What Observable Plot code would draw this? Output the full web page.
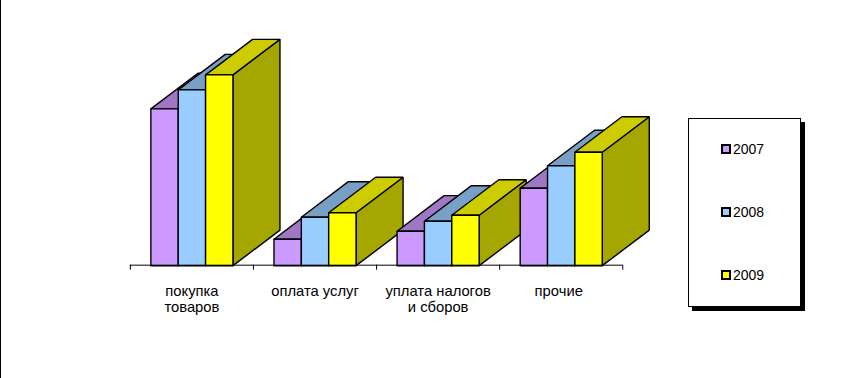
<!DOCTYPE html>
<html><head><meta charset="utf-8">
<script src="https://cdn.jsdelivr.net/npm/d3@7"></script>
<script src="https://cdn.jsdelivr.net/npm/@observablehq/plot@0.6"></script>
<style>
html,body{margin:0;padding:0;background:#fff;overflow:hidden}
#wrap{position:relative;width:850px;height:378px;box-sizing:border-box;border-left:1px solid #000;font-family:"Liberation Sans",Arial,sans-serif}
#wrap svg{position:absolute;left:-1px;top:0;background:transparent}
#legend{position:absolute;left:687px;top:118px;width:111px;height:187px;border:1px solid #000;background:#fff;box-shadow:4px 4px 0 #000}
.item{position:absolute;left:32px;display:flex;align-items:center;font-size:14px;line-height:16px;color:#000}
.sw{width:6px;height:6px;border:2px solid #000;margin-right:2px;flex:none}
</style></head><body>
<div id="wrap"></div>
<script>
const categories = ["покупка\nтоваров", "оплата услуг", "уплата налогов\nи сборов", "прочие"];
const labelPositions = [0.5, 1.5, 2.5, 3.48];
const years = ["2007", "2008", "2009"];
const values2007 = [157, 26.5, 34.5, 77.5];
const values2008 = [176, 48.5, 44.5, 100];
const values2009 = [191, 53, 50.5, 113.5];
const frontColors = ["#CC99FF", "#99CCFF", "#FFFF00"];
const topColors = ["#9F77C4", "#789FC6", "#CCCC00"];
const sideColors = ["#7F66A6", "#6688AA", "#A6A600"];
const barWidth = 2 / 9, catGap = 1 / 6, depthX = 0.382, depthY = 35.6;

const series = [values2007, values2008, values2009];
const faces = [];
categories.forEach((c, i) => years.forEach((yr, k) => {
  const v = series[k][i], x0 = i + catGap + k * barWidth, x1 = x0 + barWidth;
  const add = (part, fill, pts) => pts.forEach(([x, y]) => faces.push({id: `${i}-${k}-${part}`, fill, x, y}));
  add("side", sideColors[k], [[x1,0],[x1+depthX,depthY],[x1+depthX,v+depthY],[x1,v],[x1,0]]);
  add("top", topColors[k], [[x0,v],[x1,v],[x1+depthX,v+depthY],[x0+depthX,v+depthY],[x0,v]]);
  add("front", frontColors[k], [[x0,0],[x1,0],[x1,v],[x0,v],[x0,0]]);
}));
const labels = categories.map((label, i) => ({label, x: labelPositions[i]}));

const chart = Plot.plot({
  width: 850, height: 378,
  marginLeft: 130, marginRight: 227, marginTop: 0, marginBottom: 113,
  x: {domain: [0, 4]},
  y: {domain: [0, 265], axis: null},
  style: {background: "transparent", fontFamily: '"Liberation Sans",Arial,sans-serif'},
  marks: [
    Plot.line(faces, {x: "x", y: "y", z: "id", fill: "fill", stroke: "#000", strokeWidth: 1.4, strokeLinejoin: "miter", strokeOpacity: 1, curve: "linear", dy: 0.5}),
    Plot.ruleY([0], {stroke: "#000", strokeWidth: 1}),
    Plot.axisX({ticks: [0, 1, 2, 3, 4], tickSize: 5, tickFormat: () => "", label: null, stroke: "#000"}),
    Plot.text(labels, {x: "x", y: 0, text: "label", dy: 19.5, lineAnchor: "top", fontSize: 14.8, lineHeight: 1.1, fill: "#000"})
  ]
});
const wrap = document.getElementById("wrap");
wrap.appendChild(chart);
const legend = document.createElement("div");
legend.id = "legend";
years.forEach((yr, k) => {
  const it = document.createElement("div");
  it.className = "item";
  it.style.top = (22 + k * 63) + "px";
  const s = document.createElement("span");
  s.className = "sw"; s.style.background = frontColors[k];
  it.appendChild(s);
  it.appendChild(document.createTextNode(yr));
  legend.appendChild(it);
});
wrap.appendChild(legend);
</script>
</body></html>
